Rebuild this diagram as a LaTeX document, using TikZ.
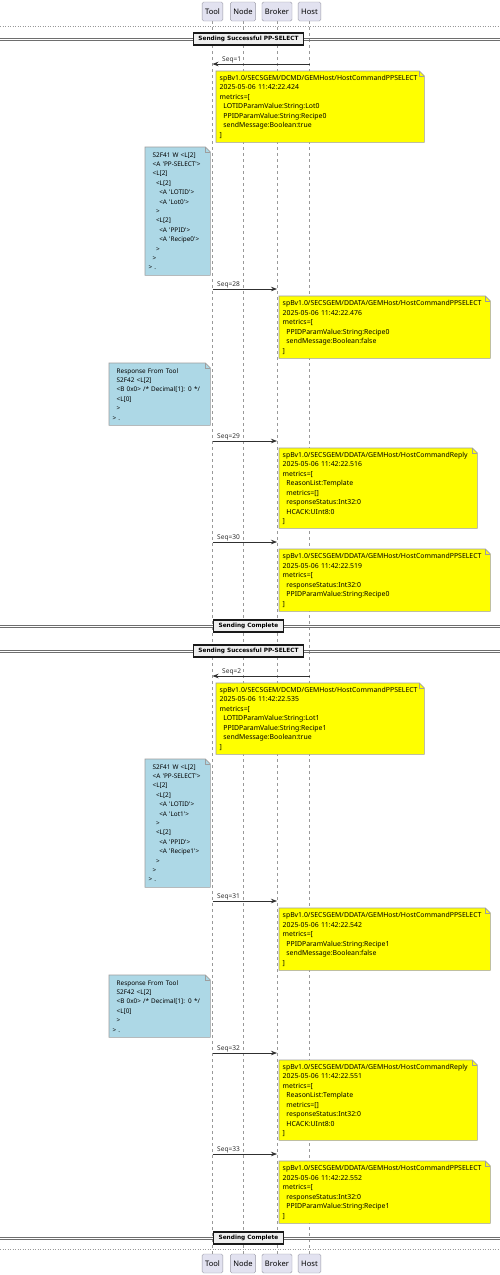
\documentclass[tikz,border=0pt]{standalone}
\usepackage{fontspec}
\usetikzlibrary{arrows.meta}

\newfontfamily\umlfont{Noto Sans}
\newfontfamily\divfont{DejaVu Sans}

\definecolor{partFill}{HTML}{E2E2F0}
\definecolor{partDraw}{HTML}{9A9AA6}
\definecolor{lineGray}{HTML}{999999}
\definecolor{msgDark}{HTML}{303030}
\definecolor{noteYellow}{HTML}{FFFF00}
\definecolor{noteBlue}{HTML}{ADD8E6}
\definecolor{noteDraw}{HTML}{9E9E9E}
\definecolor{divFill}{HTML}{EEEEEE}
\definecolor{divGray}{HTML}{6E6E6E}

\pgfdeclarelayer{lifelines}
\pgfdeclarelayer{notefill}
\pgfsetlayers{lifelines,notefill,main}

% folded note behind a named text node
\newcommand{\notebg}[2]{%
  \begin{pgfonlayer}{notefill}
    \filldraw[fill=#2, draw=noteDraw, line width=0.6pt] (#1.north west) -- ([xshift=-5pt]#1.north east)
      -- ([yshift=-5pt]#1.north east) -- (#1.south east) -- (#1.south west) -- cycle;
    \draw[noteDraw, line width=0.6pt] ([xshift=-5pt]#1.north east) -- ([xshift=-5pt, yshift=-5pt]#1.north east)
      -- ([yshift=-5pt]#1.north east);
  \end{pgfonlayer}}
\newcommand{\ind}{\hspace*{3.7pt}}
\newcommand{\gap}[1]{\hspace*{#1pt}}

\begin{document}
\begin{tikzpicture}[x=1pt, y=-1pt, >={Stealth[length=6pt, width=4.5pt]},
    part/.style={draw=partDraw, fill=partFill, rounded corners=1.5pt, minimum height=19pt,
      inner xsep=3pt, inner ysep=0pt, font=\umlfont\fontsize{7.6}{9}\selectfont},
    lifeline/.style={dash pattern=on 3pt off 3pt, lineGray, line width=0.5pt},
    msg/.style={->, msgDark, line width=0.7pt},
    seqlabel/.style={anchor=base west, yshift=2.8pt, inner sep=0pt, text=msgDark,
      font=\umlfont\fontsize{6.6}{8}\selectfont},
    note/.style={anchor=north west, align=left, inner xsep=3.5pt, inner ysep=1pt},
    yellownote/.style={note, font=\umlfont\fontsize{6.9}{9.5}\selectfont},
    bluenote/.style={note, font=\umlfont\fontsize{6.4}{9.4}\selectfont},
    divline/.style={divGray, line width=0.9pt},
    divbox/.style={draw=black!90, line width=1.3pt, fill=divFill, minimum height=12pt,
      inner xsep=5pt, inner ysep=0pt, font=\divfont\bfseries\fontsize{5.8}{7}\selectfont},
    endline/.style={dash pattern=on 1pt off 1.5pt, lineGray, line width=0.6pt}]

    % --- Canvas ---
    \begin{pgfonlayer}{lifelines}
      \fill[white] (0,0) rectangle (500,1275);
    \end{pgfonlayer}
    \useasboundingbox (0,0) rectangle (500,1275);

    % --- Participants ---
    \node[part] (toolTop) at (212.5,11.5) {Tool};
    \node[part] (nodeTop) at (243,11.5) {Node};
    \node[part] (brokerTop) at (277,11.5) {Broker};
    \node[part] (hostTop) at (309.5,11.5) {Host};
    \node[part] (toolBot) at (212.5,1263.5) {Tool};
    \node[part] (nodeBot) at (243,1263.5) {Node};
    \node[part] (brokerBot) at (277,1263.5) {Broker};
    \node[part] (hostBot) at (309.5,1263.5) {Host};

    \begin{pgfonlayer}{lifelines}
      \draw[lifeline] (toolTop) -- (toolBot);
      \draw[lifeline] (nodeTop) -- (nodeBot);
      \draw[lifeline] (brokerTop) -- (brokerBot);
      \draw[lifeline] (hostTop) -- (hostBot);
      \draw[endline] (0,26) -- (500,26);
      \draw[endline] (0,1249) -- (500,1249);
    \end{pgfonlayer}

    % --- First PP-SELECT ---
    \draw[divline] (0,38) -- (500,38) (0,40.3) -- (500,40.3);
    \node[divbox] (startDiv1) at (248.5,39) {Sending Successful PP-SELECT};

    \draw[msg] (hostTop |- 0,64) -- (toolTop |- 0,64);
    \node[seqlabel] (seqLabel1) at (222,64) {Seq=1};
    \node[yellownote, text width=201pt, minimum height=71pt] (note1) at (216,71)
      {spBv1.0/SECSGEM/DCMD/GEMHost/HostCommandPPSELECT\\2025-05-06 11:42:22.424\\metrics=[\\
       \ind LOTIDParamValue:String:Lot0\\\ind PPIDParamValue:String:Recipe0\\\ind sendMessage:Boolean:true\\]};
    \notebg{note1}{noteYellow}

    \node[bluenote, text width=58pt, minimum height=128pt] (cmdNote1) at (145,147)
      {\gap{4}S2F41 W <L[2]\\\gap{4}<A 'PP-SELECT'>\\\gap{4}<L[2]\\\gap{7.3}<L[2]\\\gap{10.6}<A 'LOTID'>\\
       \gap{10.6}<A 'Lot0'>\\\gap{7.3}>\\\gap{7.3}<L[2]\\\gap{10.6}<A 'PPID'>\\\gap{10.6}<A 'Recipe0'>\\
       \gap{7.3}>\\\gap{4}>\\> .};
    \notebg{cmdNote1}{noteBlue}

    \draw[msg] (toolTop |- 0,289) -- (brokerTop |- 0,289);
    \node[seqlabel] (seqLabel28) at (217,289) {Seq=28};
    \node[yellownote, text width=204pt, minimum height=62pt] (note28) at (279,296)
      {spBv1.0/SECSGEM/DDATA/GEMHost/HostCommandPPSELECT\\2025-05-06 11:42:22.476\\metrics=[\\
       \ind PPIDParamValue:String:Recipe0\\\ind sendMessage:Boolean:false\\]};
    \notebg{note28}{noteYellow}

    \node[bluenote, text width=94pt, minimum height=62pt] (replyNote1) at (109,363)
      {\gap{4}Response From Tool\\\gap{4}S2F42 <L[2]\\\gap{4}<B 0x0> /* Decimal[1]: 0 */\\\gap{4}<L[0]\\
       \gap{4}>\\> .};
    \notebg{replyNote1}{noteBlue}

    \draw[msg] (toolTop |- 0,441) -- (brokerTop |- 0,441);
    \node[seqlabel] (seqLabel29) at (217,441) {Seq=29};
    \node[yellownote, text width=191pt, minimum height=80pt] (note29) at (279,448)
      {spBv1.0/SECSGEM/DDATA/GEMHost/HostCommandReply\\2025-05-06 11:42:22.516\\metrics=[\\
       \ind ReasonList:Template\\\ind metrics=[]\\\ind responseStatus:Int32:0\\\ind HCACK:UInt8:0\\]};
    \notebg{note29}{noteYellow}

    \draw[msg] (toolTop |- 0,542) -- (brokerTop |- 0,542);
    \node[seqlabel] (seqLabel30) at (217,542) {Seq=30};
    \node[yellownote, text width=204pt, minimum height=62pt] (note30) at (279,549)
      {spBv1.0/SECSGEM/DDATA/GEMHost/HostCommandPPSELECT\\2025-05-06 11:42:22.519\\metrics=[\\
       \ind responseStatus:Int32:0\\\ind PPIDParamValue:String:Recipe0\\]};
    \notebg{note30}{noteYellow}

    \draw[divline] (0,625) -- (500,625) (0,627.3) -- (500,627.3);
    \node[divbox] (endDiv1) at (248.5,626) {Sending Complete};

    % --- Second PP-SELECT ---
    \draw[divline] (0,650) -- (500,650) (0,652.3) -- (500,652.3);
    \node[divbox] (startDiv2) at (248.5,651) {Sending Successful PP-SELECT};

    \draw[msg] (hostTop |- 0,676) -- (toolTop |- 0,676);
    \node[seqlabel] (seqLabel2) at (222,676) {Seq=2};
    \node[yellownote, text width=201pt, minimum height=71pt] (note2) at (216,683)
      {spBv1.0/SECSGEM/DCMD/GEMHost/HostCommandPPSELECT\\2025-05-06 11:42:22.535\\metrics=[\\
       \ind LOTIDParamValue:String:Lot1\\\ind PPIDParamValue:String:Recipe1\\\ind sendMessage:Boolean:true\\]};
    \notebg{note2}{noteYellow}

    \node[bluenote, text width=58pt, minimum height=128pt] (cmdNote2) at (145,759)
      {\gap{4}S2F41 W <L[2]\\\gap{4}<A 'PP-SELECT'>\\\gap{4}<L[2]\\\gap{7.3}<L[2]\\\gap{10.6}<A 'LOTID'>\\
       \gap{10.6}<A 'Lot1'>\\\gap{7.3}>\\\gap{7.3}<L[2]\\\gap{10.6}<A 'PPID'>\\\gap{10.6}<A 'Recipe1'>\\
       \gap{7.3}>\\\gap{4}>\\> .};
    \notebg{cmdNote2}{noteBlue}

    \draw[msg] (toolTop |- 0,901) -- (brokerTop |- 0,901);
    \node[seqlabel] (seqLabel31) at (217,901) {Seq=31};
    \node[yellownote, text width=204pt, minimum height=62pt] (note31) at (279,908)
      {spBv1.0/SECSGEM/DDATA/GEMHost/HostCommandPPSELECT\\2025-05-06 11:42:22.542\\metrics=[\\
       \ind PPIDParamValue:String:Recipe1\\\ind sendMessage:Boolean:false\\]};
    \notebg{note31}{noteYellow}

    \node[bluenote, text width=94pt, minimum height=62pt] (replyNote2) at (109,975)
      {\gap{4}Response From Tool\\\gap{4}S2F42 <L[2]\\\gap{4}<B 0x0> /* Decimal[1]: 0 */\\\gap{4}<L[0]\\
       \gap{4}>\\> .};
    \notebg{replyNote2}{noteBlue}

    \draw[msg] (toolTop |- 0,1053) -- (brokerTop |- 0,1053);
    \node[seqlabel] (seqLabel32) at (217,1053) {Seq=32};
    \node[yellownote, text width=191pt, minimum height=80pt] (note32) at (279,1060)
      {spBv1.0/SECSGEM/DDATA/GEMHost/HostCommandReply\\2025-05-06 11:42:22.551\\metrics=[\\
       \ind ReasonList:Template\\\ind metrics=[]\\\ind responseStatus:Int32:0\\\ind HCACK:UInt8:0\\]};
    \notebg{note32}{noteYellow}

    \draw[msg] (toolTop |- 0,1154) -- (brokerTop |- 0,1154);
    \node[seqlabel] (seqLabel33) at (217,1154) {Seq=33};
    \node[yellownote, text width=204pt, minimum height=62pt] (note33) at (279,1161)
      {spBv1.0/SECSGEM/DDATA/GEMHost/HostCommandPPSELECT\\2025-05-06 11:42:22.552\\metrics=[\\
       \ind responseStatus:Int32:0\\\ind PPIDParamValue:String:Recipe1\\]};
    \notebg{note33}{noteYellow}

    \draw[divline] (0,1237) -- (500,1237) (0,1239.3) -- (500,1239.3);
    \node[divbox] (endDiv2) at (248.5,1238) {Sending Complete};

\end{tikzpicture}
\end{document}
